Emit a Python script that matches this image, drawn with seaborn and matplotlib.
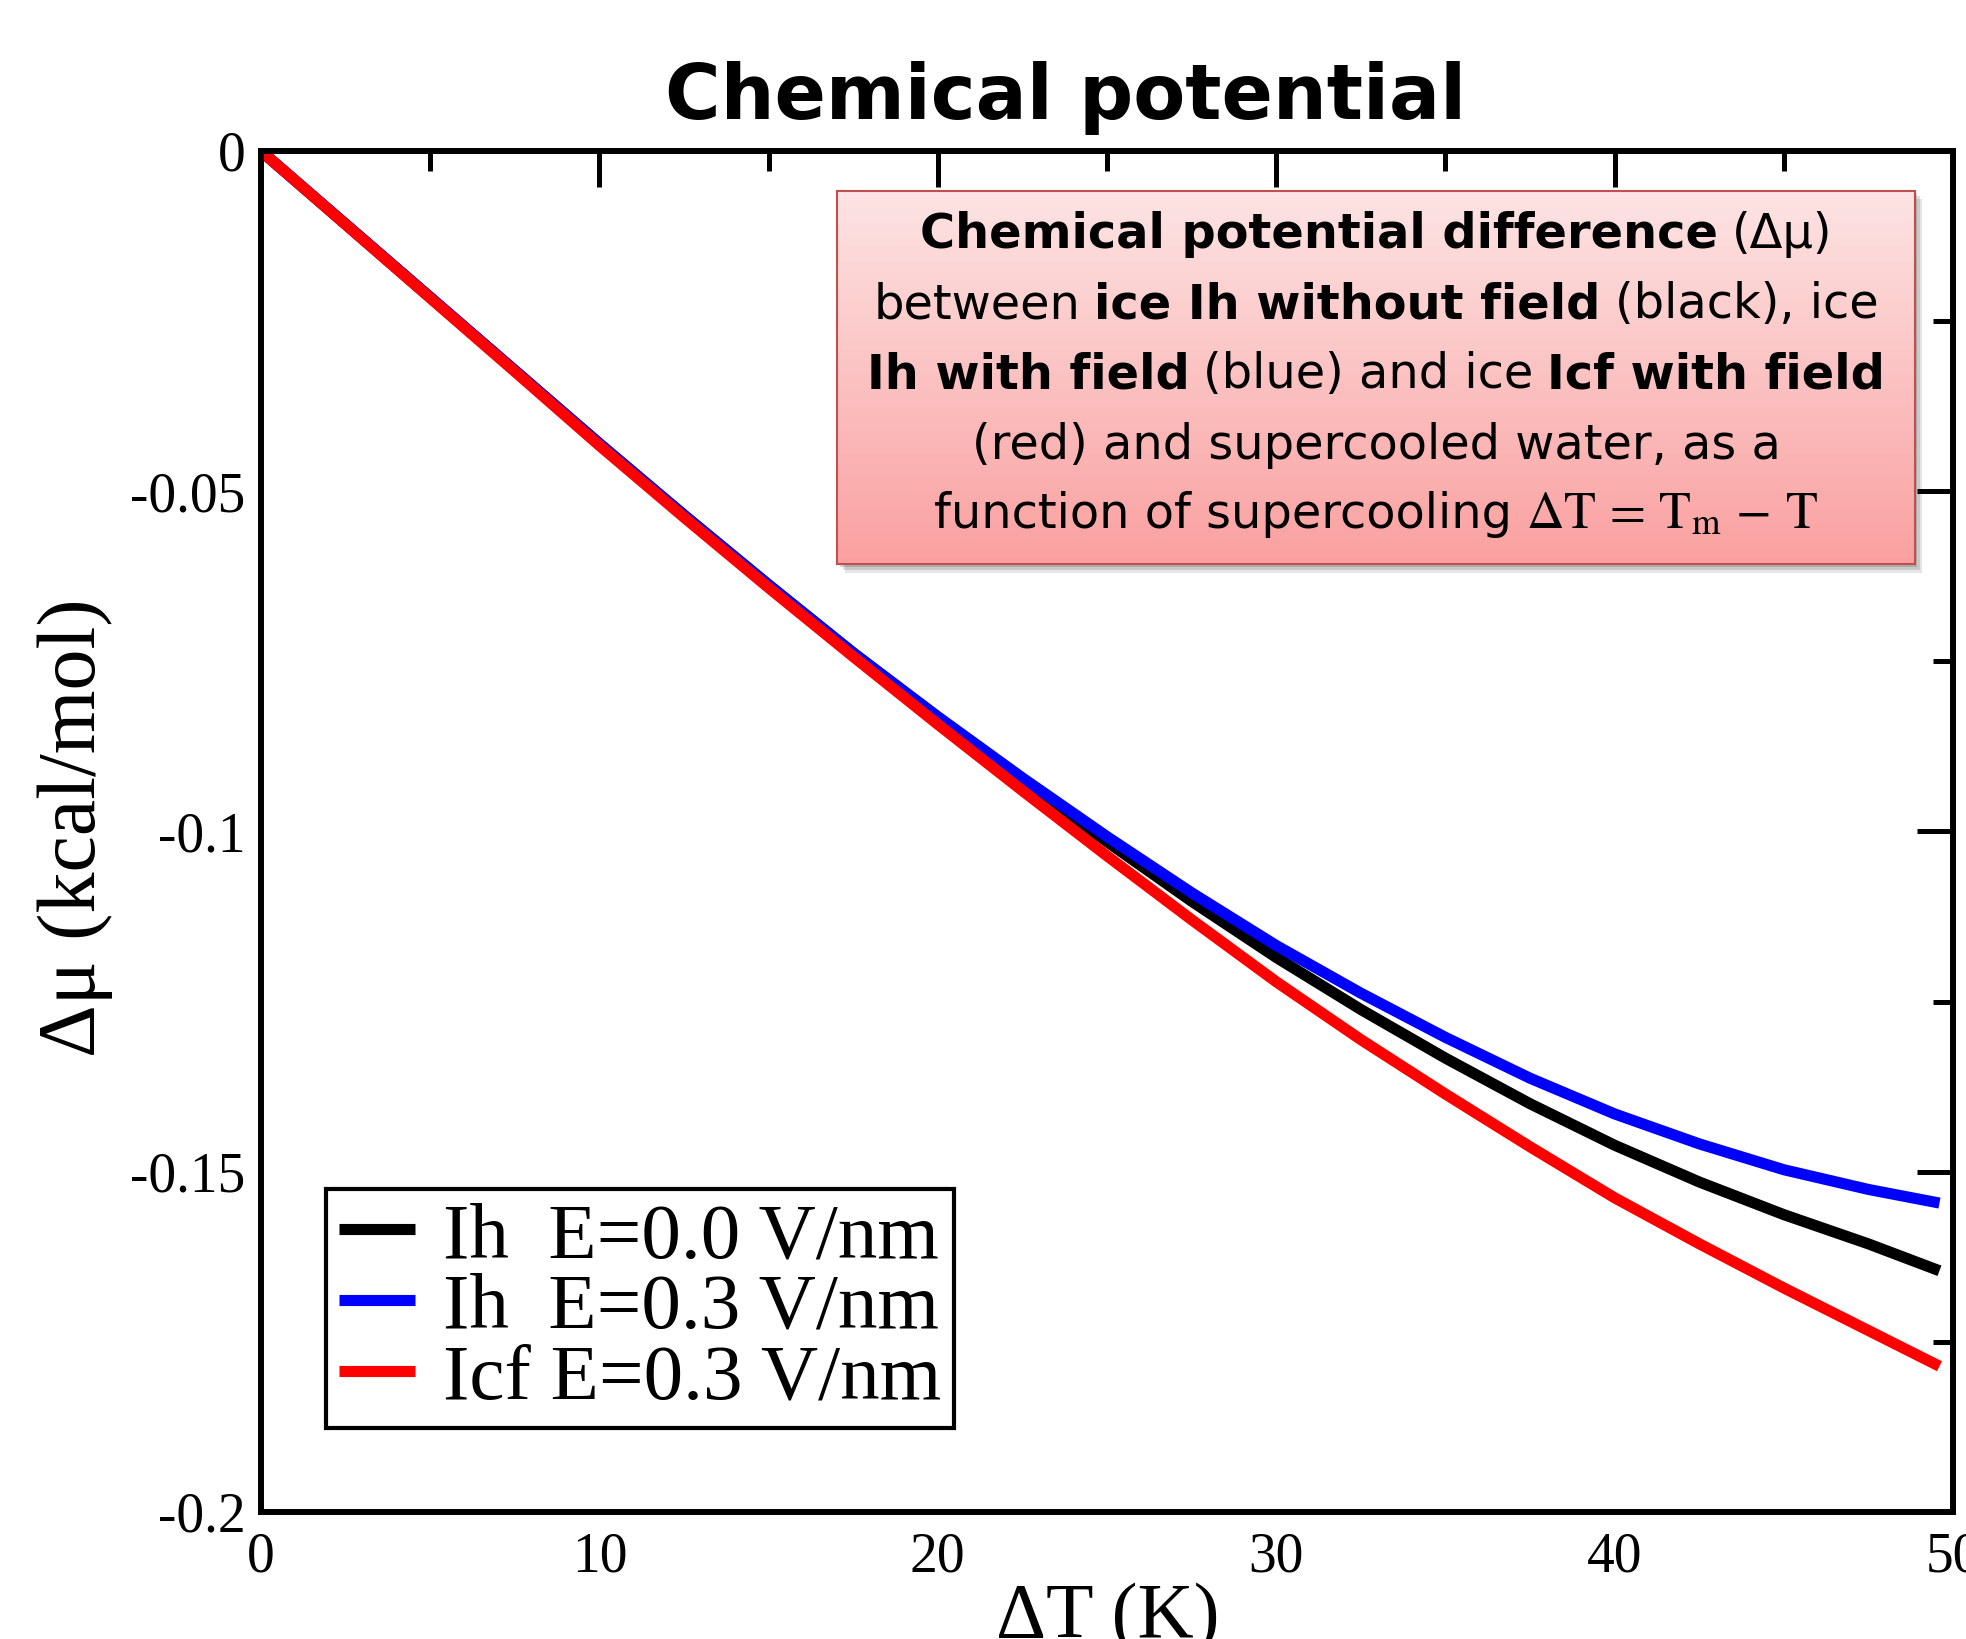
import numpy as np
import pandas as pd
import matplotlib
matplotlib.use("Agg")
import matplotlib.pyplot as plt
import seaborn as sns
from matplotlib.offsetbox import TextArea, HPacker, AnnotationBbox
from matplotlib.patches import Rectangle
from matplotlib.lines import Line2D
from matplotlib.ticker import FixedLocator, FixedFormatter, MultipleLocator

# ---------------- data ----------------
delta_T = [0, 2.5, 5, 7.5, 10, 12.5, 15, 17.5, 20, 22.5, 25, 27.5, 30,
           32.5, 35, 37.5, 40, 42.5, 45, 47.5, 49.6]
mu_ih_e00 = [0, -0.01075, -0.0215, -0.03225, -0.0430, -0.0535, -0.06375, -0.07375,
             -0.08325, -0.0925, -0.1015, -0.11025, -0.1185, -0.12615, -0.1333,
             -0.14, -0.1461, -0.1515, -0.1563, -0.1606, -0.16455]
mu_ih_e03 = [0, -0.01075, -0.0215, -0.03225, -0.0430, -0.0535, -0.06375, -0.07375,
             -0.08312, -0.09212, -0.10075, -0.1090, -0.11675, -0.12375, -0.13025,
             -0.13625, -0.1415, -0.1459, -0.1497, -0.1526, -0.1546]
mu_icf_e03 = [0, -0.01080, -0.02160, -0.03240, -0.04328, -0.05383, -0.06418, -0.07430,
              -0.08425, -0.09400, -0.10358, -0.11296, -0.12208, -0.13058, -0.13858,
              -0.14633, -0.15383, -0.16058, -0.16708, -0.17333, -0.17858]
series_labels = ["Ih  E=0.0 V/nm", "Ih  E=0.3 V/nm", "Icf E=0.3 V/nm"]
series_colors = ["#000000", "#0000ff", "#ff0000"]

x_ticks = [0, 10, 20, 30, 40, 50]
x_tick_labels = ["0", "10", "20", "30", "40", "50"]
y_ticks = [0, -0.05, -0.1, -0.15, -0.2]
y_tick_labels = ["0", "-0.05", "-0.1", "-0.15", "-0.2"]

title_text = "Chemical potential"
x_label = "\u0394T (K)"
y_label = "\u0394\u03bc (kcal/mol)"

box_lines = [
    [("Chemical potential difference", "bold"), ("(\u0394\u03bc)", "normal")],
    [("between", "normal"), ("ice Ih without field", "bold"), ("(black), ice", "normal")],
    [("Ih with field", "bold"), ("(blue) and ice", "normal"), ("Icf with field", "bold")],
    [("(red) and supercooled water, as a", "normal")],
    [("function of supercooling", "normal"),
     (r"$\Delta\mathrm{T}\,=\,\mathrm{T}_\mathrm{m}\,-\,\mathrm{T}$", "math")],
]

# ---------------- style ----------------
sns.set_style("white")
plt.rcParams.update({
    "axes.unicode_minus": False,
    "mathtext.fontset": "stix",
    "text.color": "black",
    "axes.labelcolor": "black",
    "xtick.color": "black",
    "ytick.color": "black",
    "axes.edgecolor": "black",
})
serif = ["Liberation Serif", "DejaVu Serif"]
sans = ["DejaVu Sans"]
plt.rcParams["font.family"] = serif

W, H = 1966, 1639
fig = plt.figure(figsize=(W / 100, H / 100), dpi=100)
ax = fig.add_axes([261 / W, 1 - 1512 / H, 1692 / W, 1361 / H])

df = pd.DataFrame({
    "T": delta_T * 3,
    "mu": mu_ih_e00 + mu_ih_e03 + mu_icf_e03,
    "series": [series_labels[0]] * len(delta_T) + [series_labels[1]] * len(delta_T)
              + [series_labels[2]] * len(delta_T),
})
sns.lineplot(data=df, x="T", y="mu", hue="series", hue_order=series_labels,
             palette=dict(zip(series_labels, series_colors)), linewidth=8,
             estimator=None, sort=False, legend=False, ax=ax)
for ln in ax.get_lines():
    ln.set_solid_capstyle("butt")
    ln.set_solid_joinstyle("round")

ax.set_xlim(0, 50)
ax.set_ylim(-0.2, 0)
ax.xaxis.set_major_locator(FixedLocator(x_ticks))
ax.xaxis.set_major_formatter(FixedFormatter(x_tick_labels))
ax.xaxis.set_minor_locator(MultipleLocator(5))
ax.yaxis.set_major_locator(FixedLocator(y_ticks))
ax.yaxis.set_major_formatter(FixedFormatter(y_tick_labels))
ax.yaxis.set_minor_locator(MultipleLocator(0.025))
ax.tick_params(which="both", direction="in", top=True, right=True,
               labeltop=False, labelright=False, colors="black",
               labelcolor="black")
ax.tick_params(which="major", length=26, width=3.6, labelsize=40)
ax.tick_params(which="minor", length=14.5, width=3.6)
ax.tick_params(axis="x", which="major", pad=14)
ax.tick_params(axis="y", which="major", pad=11)
for lab in ax.get_xticklabels() + ax.get_yticklabels():
    lab.set_family(serif)
    lab.set_color("black")
for s in ax.spines.values():
    s.set_linewidth(4.3)
    s.set_color("black")
ax.set_xlabel("")
ax.set_ylabel("")

fig.text(75 / W, 1 - 828 / H, y_label, rotation=90, ha="center", va="center",
         fontsize=59, family=serif, color="black")
fig.text(1108 / W, 1 - 1637 / H, x_label, ha="center", va="baseline",
         fontsize=56, family=serif, color="black")
fig.text(1066 / W, 1 - 119 / H, title_text, ha="center", va="baseline",
         fontsize=54.5, fontweight="bold", family=sans, color="black")

# legend
handles = [Line2D([], [], color=c, lw=8, solid_capstyle="butt") for c in series_colors]
leg = ax.legend(handles, series_labels, loc="upper left",
                bbox_to_anchor=(0.0384, 0.2373), borderaxespad=0,
                prop={"family": serif, "size": 57}, frameon=True, fancybox=False,
                handlelength=0.96, handletextpad=0.36, labelspacing=-0.02,
                borderpad=0.16)
leg.get_frame().set_edgecolor("black")
leg.get_frame().set_linewidth(3)
leg.get_frame().set_facecolor("white")
leg.get_frame().set_alpha(1)
for txt in leg.get_texts():
    txt.set_color("black")

# annotation box (gradient)
x0, x1, y0, y1 = 0.3407, 0.9773, 0.6964, 0.9709
for k, a in enumerate([0.10, 0.12, 0.15]):
    off = 0.0015 * (3 - k)
    ax.add_patch(Rectangle((x0 + off, y0 - off * 1.4), x1 - x0, y1 - y0,
                           transform=ax.transAxes, facecolor="#000000",
                           edgecolor="none", alpha=a, zorder=4, clip_on=False))
top_c = np.array([253, 228, 228]) / 255
bot_c = np.array([250, 160, 160]) / 255
t = np.linspace(0, 1, 256)[:, None, None]
grad = top_c[None, None, :] * (1 - t) + bot_c[None, None, :] * t
ax.imshow(grad, extent=[x0, x1, y0, y1], transform=ax.transAxes, aspect="auto",
          origin="upper", zorder=5, interpolation="bilinear", clip_on=False)
ax.add_patch(Rectangle((x0, y0), x1 - x0, y1 - y0, transform=ax.transAxes,
                       facecolor="none", edgecolor="#c0504d", lw=1.5, zorder=6,
                       clip_on=False))
ax.set_xlim(0, 50)
ax.set_ylim(-0.2, 0)

box_fs = 34.5
line_y = [0.9387, 0.8871, 0.8355, 0.7839, 0.7323]
cx = (x0 + x1) / 2
for segs, yy in zip(box_lines, line_y):
    children = []
    for txt, kind in segs:
        if kind == "math":
            props = dict(fontsize=box_fs + 3, color="black")
        else:
            props = dict(fontsize=box_fs, fontweight=kind, family=sans, color="black")
        children.append(TextArea(txt, textprops=props))
    pack = HPacker(children=children, align="baseline", pad=0, sep=10)
    ab = AnnotationBbox(pack, (cx, yy), xycoords="axes fraction",
                        box_alignment=(0.5, 0.5), frameon=False, pad=0, zorder=7)
    ax.add_artist(ab)

fig.savefig("out.png", dpi=100)
